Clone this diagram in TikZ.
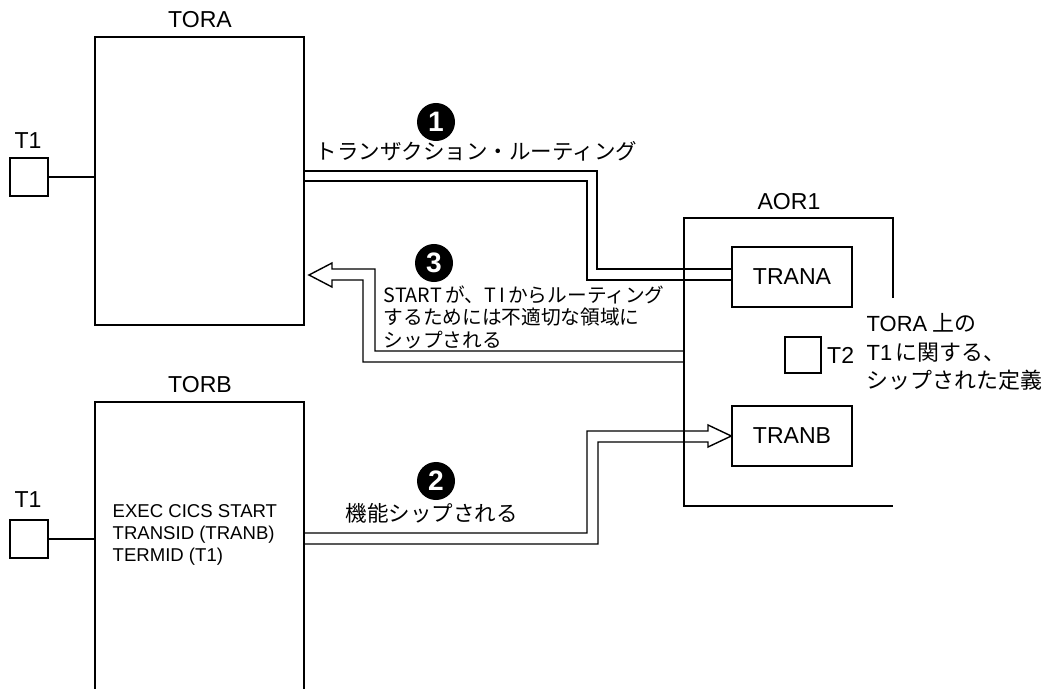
\documentclass[tikz,border=0pt]{standalone}
\usepackage{fontspec}
\setmainfont{Liberation Sans}
\newfontfamily\jp{Noto Sans CJK JP}
\usetikzlibrary{positioning}
\newcommand{\latn}[1]{{\rmfamily #1}}

\begin{document}
\begin{tikzpicture}[x=0.025cm, y=-0.025cm, line width=1pt,
        box/.style={draw, inner sep=0pt},
        lbl/.style={inner sep=0pt, font=\fontsize{16.4}{19}\selectfont},
        jlbl/.style={inner sep=0pt, anchor=west, align=left, font=\jp\fontsize{15.3}{18}\selectfont},
        num/.style={circle, fill=black, text=white, minimum size=0.95cm, inner sep=0pt, font=\fontsize{20}{20}\selectfont\bfseries}]
        \useasboundingbox (0,0) rectangle (1046,689);

        \node[box, minimum width=5.225cm, minimum height=7.2cm] (tora) at (199.5,181) {};
        \node[lbl] (toralbl) at (200,20) {TORA};
        \node[box, minimum size=0.95cm] (t1a) at (29,177) {};
        \node[lbl] (t1albl) at (28,141) {T1};
        \draw (t1a.east) -- (t1a.east -| tora.west);

        \coordinate (torbNW) at (95,402);
        \coordinate (torbNE) at (304,402);
        \draw (torbNW |- 0,689) -- (torbNW) -- (torbNE) -- (torbNE |- 0,689);
        \node[lbl] (torblbl) at (200,385) {TORB};
        \node[box, minimum size=0.95cm] (t1b) at (29,539) {};
        \node[lbl] (t1blbl) at (28,500) {T1};
        \draw (t1b.east) -- (t1b.east -| torbNW);
        \node[inner sep=0pt, anchor=west, align=left, font=\fontsize{13.2}{15.6}\selectfont] (code) at (112,535)
            {EXEC CICS START\\TRANSID (TRANB)\\TERMID (T1)};

        \coordinate (aorNW) at (684,218);
        \coordinate (aorNE) at (893,218);
        \draw (aorNE |- 0,298) -- (aorNE) -- (aorNW) -- (aorNW |- 0,506) -- (aorNE |- 0,506);
        \node[lbl] (aorlbl) at (789,202) {AOR1};
        \node[box, lbl, minimum width=3cm, minimum height=1.5cm] (trana) at (792,277) {TRANA};
        \node[box, lbl, minimum width=3cm, minimum height=1.5cm] (tranb) at (792,436) {TRANB};
        \node[box, minimum size=0.9cm] (t2) at (803,355) {};
        \node[lbl, right=0.12cm of t2] (t2lbl) {T2};
        \node[jlbl, font=\jp\fontsize{15.6}{20}\selectfont] (defn) at (866,352)
            {\latn{TORA} 上の\\\latn{T1}\,に関する、\\シップされた定義};

        \draw (tora.east |- 0,171) -| (597,269) -- (trana.west |- 0,269);
        \draw (tora.east |- 0,181) -| (587,280) -- (trana.west |- 0,280);
        \node[num] (n1) at (436,122) {1};
        \node[jlbl] (route) at (315,151) {トランザクション・ルーティング};

        \draw (torbNE |- 0,533) -| (587,431) -- (708,431) -- (708,425) -- (tranb.west)
            -- (708,447) -- (708,442) -| (598,544) -- (torbNE |- 0,544);
        \node[num] (n2) at (436,481) {2};
        \node[jlbl] (ship) at (345,513) {機能シップされる};

        \draw (aorNW |- 0,351) -| (375,269) -- (332,269) -- (332,263) -- (309,275)
            -- (332,287) -- (332,280) -- (363,280) |- (aorNW |- 0,362);
        \node[num] (n3) at (434,263) {3};
        \node[jlbl, font=\jp\fontsize{14}{16}\selectfont] (start) at (383,317)
            {START\,が、T\,I\,からルーティング\\するためには不適切な領域に\\シップされる};
\end{tikzpicture}
\end{document}
